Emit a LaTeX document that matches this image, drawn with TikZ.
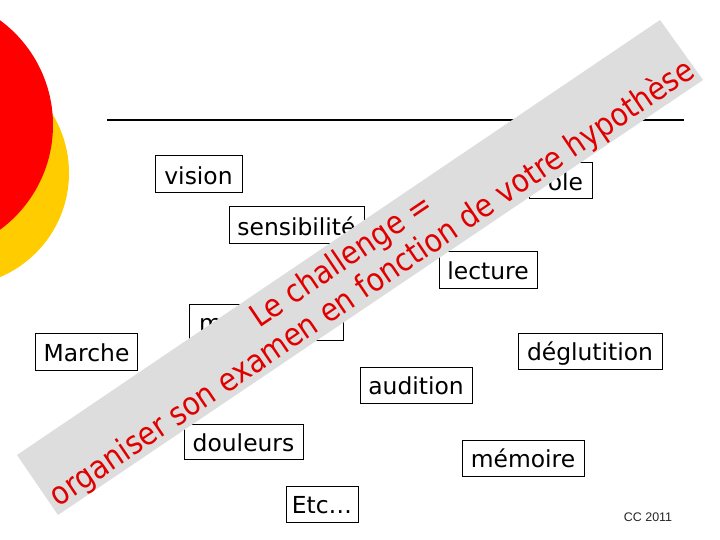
\documentclass[tikz,border=0pt]{standalone}
\usepackage{fontspec}
\setmainfont{DejaVu Sans}
\newfontfamily\arialf{Liberation Sans}
\newfontfamily\bandfont[FakeStretch=0.89]{DejaVu Sans}
\definecolor{slred}{RGB}{255,0,0}
\definecolor{slyellow}{RGB}{255,204,0}
\definecolor{bandgray}{RGB}{221,221,221}
\definecolor{txtred}{RGB}{224,0,0}
\begin{document}
\begin{tikzpicture}[x=1bp,y=-1bp,
  box/.style={draw=black, fill=white, line width=1bp, inner sep=0pt,
    minimum height=36bp, text height=19.6bp, text depth=0pt,
    font=\fontsize{23.5}{28}\selectfont},
  bandtxt/.style={text=txtred, font=\bandfont\fontsize{32}{38}\selectfont,
    rotate=34.1, inner sep=0pt}]
\clip (0,0) rectangle (720,540);
\fill[white] (0,0) rectangle (720,540);
% decorative circles
\fill[slyellow] (-44,173) circle (113);
\fill[slred] (-77,125) circle (130);
% title rule
\coordinate (ruleA) at (107,120);
\coordinate (ruleB) at (684,120);
\draw[line width=2bp] (ruleA) -- (ruleB);
% boxes
\node[box, minimum width=87bp, minimum height=37bp] (vision) at (198.5,174.5) {vision};
\node[box, minimum width=135bp, minimum height=37bp] (sens) at (296.5,225.5) {sensibilité};
\node[box, minimum width=101bp, minimum height=37bp] (marche) at (86.5,351.5) {Marche};
\node[box, inner xsep=10bp] (motr) at (266,322) {\makebox[134bp][l]{m}};
\node[box] (parole) at (560.5,181) {\makebox[63bp][r]{ole\hspace{9bp}}};
\node[box, minimum width=98bp] (lecture) at (488,270) {lecture};
\node[box, minimum width=144bp] (deglut) at (590,351) {déglutition};
\node[box, minimum width=112bp] (audition) at (416,385) {audition};
\node[box, minimum width=122bp] (memoire) at (523,458) {mémoire};
\node[box, minimum width=119bp, minimum height=35bp] (douleurs) at (243.5,441.5) {douleurs};
\node[box, minimum width=72bp] (etc) at (322,504) {Etc…};
% diagonal band
\fill[bandgray] (17,455) -- (660,20) -- (703,80) -- (58,515) -- cycle;
\node[bandtxt] (line1) at (342,262) {Le challenge =};
\node[bandtxt] (line2) at (372.5,283.5) {organiser son examen en fonction de votre hypothèse};
% footer
\node[font=\arialf\fontsize{12.5}{15}\selectfont, text=black!85, inner sep=0pt] (cc) at (648,517) {CC 2011};
\end{tikzpicture}
\end{document}
